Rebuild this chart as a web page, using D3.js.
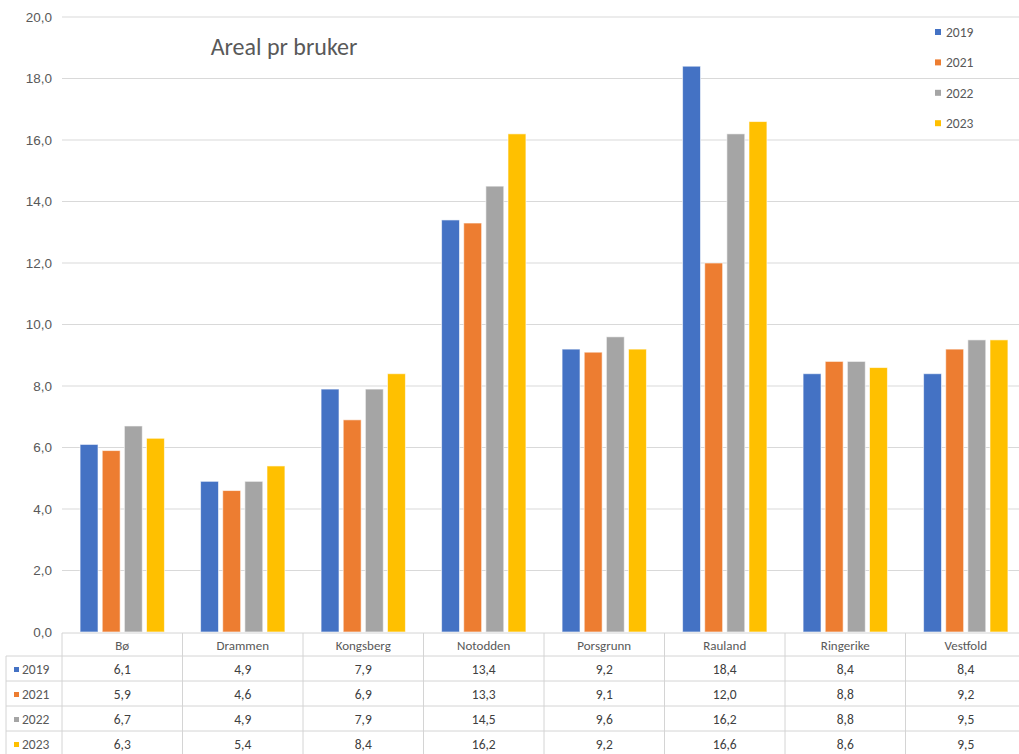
<!DOCTYPE html>
<html>
<head>
<meta charset="utf-8">
<script src="https://cdn.jsdelivr.net/npm/d3@7"></script>
<style>
  html, body { margin: 0; padding: 0; background: #fff; }
  svg { display: block; font-family: Calibri, Carlito, "Liberation Sans", "Open Sans", sans-serif; }
</style>
</head>
<body>
<svg id="chart" width="1019" height="754"></svg>
<script>
// Areal pr bruker – grouped bar chart with a data table underneath
const categories = ["Bø", "Drammen", "Kongsberg", "Notodden", "Porsgrunn", "Rauland", "Ringerike", "Vestfold"];
const years = ["2019", "2021", "2022", "2023"];
const values2019 = [6.1, 4.9, 7.9, 13.4, 9.2, 18.4, 8.4, 8.4];
const values2021 = [5.9, 4.6, 6.9, 13.3, 9.1, 12.0, 8.8, 9.2];
const values2022 = [6.7, 4.9, 7.9, 14.5, 9.6, 16.2, 8.8, 9.5];
const values2023 = [6.3, 5.4, 8.4, 16.2, 9.2, 16.6, 8.6, 9.5];
const yTicks = [0, 2, 4, 6, 8, 10, 12, 14, 16, 18, 20];
const colors = ["#4472C4", "#ED7D31", "#A5A5A5", "#FFC000"];

const series = [values2019, values2021, values2022, values2023].map((vals, i) => ({
  year: years[i], color: colors[i], values: vals
}));

const svg = d3.select("#chart");
const plotLeft = 62, plotTop = 17, plotBottom = 632;
const bandStep = 120.5;

const x = d3.scaleBand()
  .domain(categories)
  .range([plotLeft, plotLeft + bandStep * categories.length])
  .paddingInner(0).paddingOuter(0);

const xInner = d3.scaleBand()
  .domain(years)
  .range([x.bandwidth() * 0.15, x.bandwidth() * 0.85])
  .paddingInner(0.19);

const y = d3.scaleLinear().domain([0, 20]).range([plotBottom, plotTop]);
const fmt = v => d3.format(".1f")(v).replace(".", ",");

// horizontal gridlines
svg.append("g").selectAll("line")
  .data(yTicks.filter(t => t > 0))
  .join("line")
  .attr("x1", plotLeft).attr("x2", 1019)
  .attr("y1", d => y(d)).attr("y2", d => y(d))
  .attr("stroke", "#d9d9d9").attr("stroke-width", 1);

// y axis labels
const yAxis = d3.axisLeft(y).tickValues(yTicks).tickFormat(fmt).tickSize(0).tickPadding(10);
const gy = svg.append("g").attr("transform", `translate(${plotLeft},0)`).call(yAxis);
gy.select(".domain").remove();
gy.selectAll("text").attr("fill", "#595959").attr("font-size", 13.5);

// bars
const groups = svg.append("g").selectAll("g")
  .data(series)
  .join("g")
  .attr("fill", d => d.color);

groups.selectAll("rect")
  .data(s => s.values.map((v, i) => ({ cat: categories[i], year: s.year, v })))
  .join("rect")
  .attr("x", d => x(d.cat) + xInner(d.year))
  .attr("width", xInner.bandwidth())
  .attr("y", d => y(d.v))
  .attr("height", d => y(0) - y(d.v))
  .attr("stroke", "#ffffff").attr("stroke-width", 1).attr("stroke-opacity", 0.6);

// title
svg.append("text")
  .attr("x", 284).attr("y", 55)
  .attr("text-anchor", "middle")
  .attr("fill", "#595959").attr("font-size", 24)
  .text("Areal pr bruker");

// legend
const legend = svg.append("g").selectAll("g")
  .data(series)
  .join("g")
  .attr("transform", (d, i) => `translate(935,${32 + i * 30.4})`);
legend.append("rect")
  .attr("x", 0).attr("y", -3).attr("width", 6).attr("height", 6)
  .attr("fill", d => d.color);
legend.append("text")
  .attr("x", 11).attr("y", 0).attr("dy", "0.35em")
  .attr("fill", "#595959").attr("font-size", 13.5)
  .text(d => d.year);

// data table
const tableTop = 633, headerH = 23, rowH = 25, legendColLeft = 6;
const table = svg.append("g");
const tableRight = x.range()[1];
const lineColor = "#d4d4d4";

// horizontal rules
const rowYs = [tableTop, tableTop + headerH].concat(series.map((s, i) => tableTop + headerH + rowH * (i + 1)));
table.selectAll("line.h")
  .data(rowYs)
  .join("line")
  .attr("x1", (d, i) => i === 0 ? plotLeft : legendColLeft)
  .attr("x2", tableRight)
  .attr("y1", d => d).attr("y2", d => d)
  .attr("stroke", lineColor);

// vertical rules
const colXs = [plotLeft].concat(categories.map(c => x(c) + x.bandwidth()));
table.selectAll("line.v")
  .data(colXs)
  .join("line")
  .attr("x1", d => d).attr("x2", d => d)
  .attr("y1", tableTop).attr("y2", tableTop + headerH + rowH * series.length)
  .attr("stroke", lineColor);
table.append("line")
  .attr("x1", legendColLeft).attr("x2", legendColLeft)
  .attr("y1", tableTop + headerH).attr("y2", tableTop + headerH + rowH * series.length)
  .attr("stroke", lineColor);

// header (category names)
table.selectAll("text.cat")
  .data(categories)
  .join("text")
  .attr("x", d => x(d) + x.bandwidth() / 2)
  .attr("y", tableTop + headerH / 2 + 1)
  .attr("dy", "0.35em")
  .attr("text-anchor", "middle")
  .attr("fill", "#595959").attr("font-size", 13)
  .text(d => d);

// rows
const rows = table.selectAll("g.row")
  .data(series)
  .join("g")
  .attr("transform", (d, i) => `translate(0,${tableTop + headerH + rowH * i + rowH / 2 + 1})`);
rows.append("rect")
  .attr("x", 14).attr("y", -2.5).attr("width", 5).attr("height", 5)
  .attr("fill", d => d.color);
rows.append("text")
  .attr("x", 22).attr("dy", "0.35em")
  .attr("fill", "#595959").attr("font-size", 13.5)
  .text(d => d.year);
rows.selectAll("text.val")
  .data(s => s.values.map((v, i) => ({ cat: categories[i], v })))
  .join("text")
  .attr("x", d => x(d.cat) + x.bandwidth() / 2)
  .attr("dy", "0.35em")
  .attr("text-anchor", "middle")
  .attr("fill", "#404040").attr("font-size", 13.5)
  .text(d => fmt(d.v));
</script>
</body>
</html>
